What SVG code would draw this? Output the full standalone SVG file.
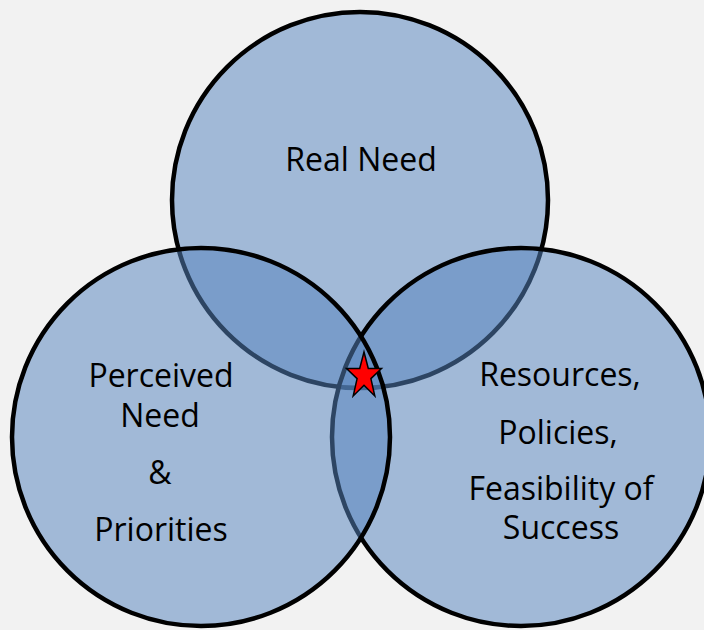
<svg xmlns="http://www.w3.org/2000/svg" width="704" height="630" viewBox="0 0 704 630">
<defs>
<style>
.c{fill:#5684be;fill-opacity:0.52;stroke:#000;stroke-width:4.5}
.t{font-family:"Open Sans","Liberation Sans",sans-serif;font-size:32px;fill:#000;text-anchor:middle}
</style>
</defs>
<rect width="704" height="630" fill="#f2f2f2"/>
<g id="real-need">
<circle class="c" cx="360" cy="200" r="188"/>
<text class="t" x="361" y="171">Real Need</text>
</g>
<g id="resources">
<circle class="c" cx="521" cy="437" r="189"/>
<text class="t" x="560" y="386">Resources,</text>
<text class="t" x="558" y="444">Policies,</text>
<text class="t" x="561" y="500">Feasibility of</text>
<text class="t" x="561" y="539">Success</text>
</g>
<g id="perceived-need">
<circle class="c" cx="201" cy="437" r="189"/>
<text class="t" x="161" y="387">Perceived</text>
<text class="t" x="160" y="427">Need</text>
<text class="t" x="160" y="484">&amp;</text>
<text class="t" x="161" y="541">Priorities</text>
</g>
<g id="star">
<polygon points="364,352 368.3,368.4 381.5,368.5 370.9,378.6 374.8,396 364,385.3 353.2,396 357.1,378.6 346.5,368.5 359.7,368.4" fill="#ff0000" stroke="#000" stroke-width="1.5" stroke-linejoin="miter"/>
</g>
</svg>
